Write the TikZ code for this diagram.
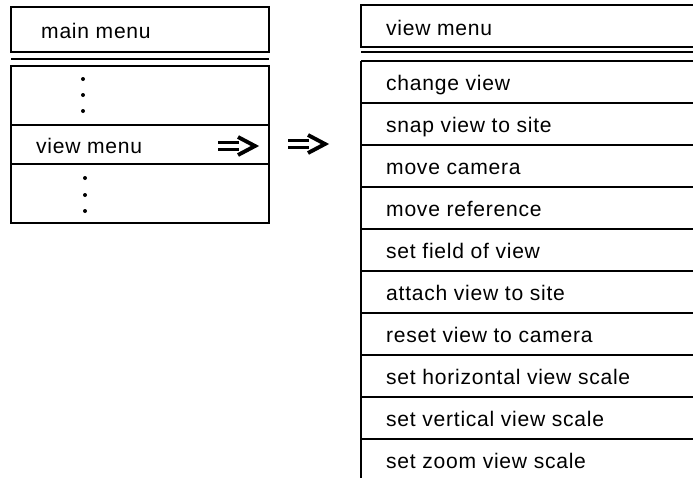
\documentclass[tikz,border=0pt]{standalone}
\usepackage{fontspec}
\setmainfont{Liberation Sans}[LetterSpace=3.5]
\usetikzlibrary{positioning}

\tikzset{
  menutext/.style={anchor=base west, inner sep=0pt, font=\fontsize{12}{14}\selectfont},
  dblarrow/.pic={
    \draw[line width=2.2pt] (-37,-3.5) -- (-16,-3.5) (-37,3.5) -- (-16,3.5);
    \draw[line width=2.2pt] (-17,-9) -- (0,0) -- (-17,9);
  }
}

\begin{document}
\begin{tikzpicture}[x=0.02cm,y=-0.02cm,line width=1.4pt]
\clip (0,0) rectangle (693,477);
% main menu
\draw (11,7) rectangle (269,52);
\node[menutext] (mainmenu) at (40,38) {main menu};
\draw (11,59) -- (269,59);
\draw (11,66) rectangle (269,223);
\draw (11,125) -- (269,125);
\draw (11,164) -- (269,164);
\node[menutext] (viewitem) at (35,153) {view menu};
\foreach \y in {79,95,111} \fill (83,\y) circle (2);
\foreach \y in {178,195,211} \fill (85,\y) circle (2);
\pic at (255,146) {dblarrow};
\pic at (325,144) {dblarrow};
% view menu
\draw (361,5) rectangle (720,47);
\node[menutext] (viewmenu) at (385,35) {view menu};
\draw (361,52) -- (720,52);
\draw (361,61) -- (720,61);
\draw (361,61) -- (361,490);
\foreach \t [count=\i] in {change view,snap view to site,move camera,move reference,set field of view,attach view to site,reset view to camera,set horizontal view scale,set vertical view scale,set zoom view scale} {
  \node[menutext] (item\i) at (385,{61+42*(\i-1)+29.5}) {\t};
  \ifnum\i<10 \draw (361,{61+42*\i}) -- (720,{61+42*\i}); \fi
}
\end{tikzpicture}
\end{document}
